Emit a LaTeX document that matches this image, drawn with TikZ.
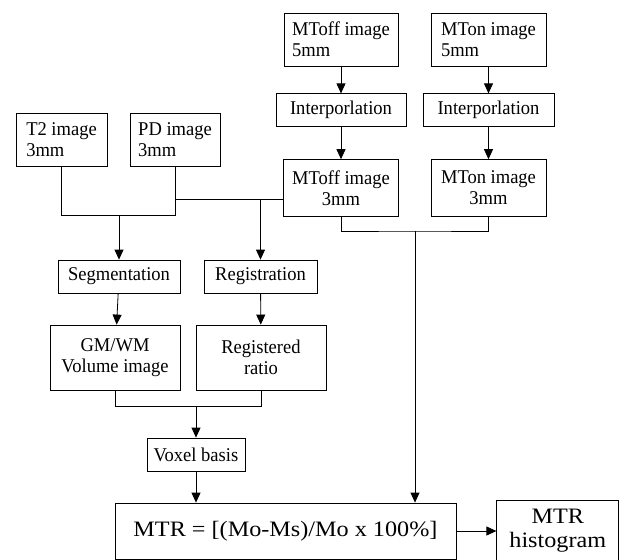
\documentclass[tikz,border=0pt]{standalone}
\usepackage{fontspec}
\setmainfont{Liberation Serif}
\newfontfamily\boxfont{Liberation Serif}[FakeStretch=0.95]
\newfontfamily\bigfont{Liberation Serif}[FakeStretch=1.1]
\usetikzlibrary{positioning,arrows.meta}

\tikzset{
  box/.style={draw, line width=0.8pt, inner sep=2pt, align=left,
    font=\boxfont\fontsize{19.5}{21}\selectfont},
  cbox/.style={box, align=center},
  bigbox/.style={box, align=center, font=\bigfont\fontsize{22}{24}\selectfont},
  arr/.style={-{Triangle[length=10pt,width=9pt]}}
}

\begin{document}
\begin{tikzpicture}[x=1pt, y=-1pt, line width=0.8pt]
  \useasboundingbox (0,0) rectangle (622,560);

  % MT images and interpolation
  \node[box, minimum width=114pt, minimum height=53pt] (moff5) at (341,39.5) {MToff image\\5mm};
  \node[box, minimum width=115pt, minimum height=53pt] (mon5) at (488.5,39.5) {MTon image\\5mm};
  \node[box, minimum width=130pt, minimum height=33pt, below=27pt of moff5] (ipoff) {Interporlation};
  \node[box, minimum width=131pt, minimum height=33pt, below=27pt of mon5] (ipon) {Interporlation};
  \node[cbox, minimum width=115pt, minimum height=57pt, below=32pt of ipoff] (moff3) {MToff image\\3mm};
  \node[cbox, minimum width=115pt, minimum height=57pt, below=32pt of ipon] (mon3) {MTon image\\3mm};

  % T2 / PD images
  \node[box, minimum width=91pt, minimum height=53pt] (t2) at (61.5,139.5) {T2 image\\3mm};
  \node[box, minimum width=90pt, minimum height=53pt] (pd) at (175,139.5) {PD image\\3mm};

  % processing
  \node[box, minimum width=122pt, minimum height=33pt] (seg) at (119,276.5) {Segmentation};
  \node[box, minimum width=113pt, minimum height=33pt] (reg) at (260.5,276.5) {Registration};
  \node[cbox, minimum width=130pt, minimum height=65pt] (gmwm) at (115,357.5) {GM/WM\\Volume image};
  \node[cbox, minimum width=130pt, minimum height=65pt] (regr) at (261,357.5) {Registered\\ratio};
  \node[box, minimum width=98pt, minimum height=33pt] (voxel) at (196,454.5) {Voxel basis};
  \node[bigbox, minimum width=341pt, minimum height=56pt] (mtr) at (285.5,531) {MTR = [(Mo-Ms)/Mo x 100\%]};
  \node[bigbox, minimum width=122pt, minimum height=62pt, right=40pt of mtr] (hist) {MTR\\histogram};

  % junctions
  \coordinate (jtp) at (0,215);
  \coordinate (jreg) at (0,199);
  \coordinate (jmt) at (415,231);
  \coordinate (jvox) at (0,406);

  \draw[arr] (moff5) -- (ipoff);
  \draw[arr] (mon5) -- (ipon);
  \draw[arr] (ipoff) -- (moff3);
  \draw[arr] (ipon) -- (mon3);

  \draw (t2.south) |- (jtp -| pd.south) -- (pd.south);
  \draw[arr] (seg.north |- jtp) -- (seg.north);
  \draw (pd.south |- jreg) -- (moff3.west |- jreg);
  \draw[arr] (reg.north |- jreg) -- (reg.north);

  \draw (moff3.south) |- (jmt) -| (mon3.south);
  \draw[arr] (jmt) -- (jmt |- mtr.north);

  \draw[arr] (seg) -- (gmwm);
  \draw[arr] (reg) -- (regr);
  \draw (gmwm.south) |- (jvox -| regr.south) -- (regr.south);
  \draw[arr] (voxel.north |- jvox) -- (voxel.north);
  \draw[arr] (voxel.south) -- (voxel.south |- mtr.north);
  \draw[arr] (mtr.east |- hist.west) -- (hist.west);
\end{tikzpicture}
\end{document}
